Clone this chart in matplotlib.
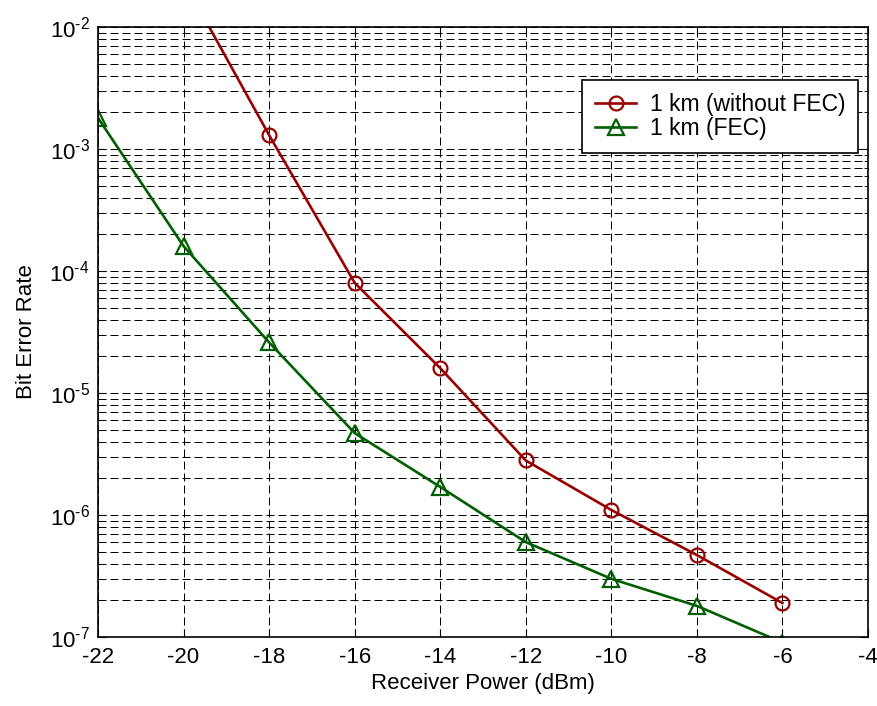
import math
import matplotlib as mpl
import matplotlib.pyplot as plt
from matplotlib.ticker import LogLocator, NullFormatter, FuncFormatter

mpl.rcParams['font.family'] = ['Liberation Sans', 'DejaVu Sans']
mpl.rcParams['mathtext.fontset'] = 'custom'
mpl.rcParams['mathtext.rm'] = 'Liberation Sans'
mpl.rcParams['axes.unicode_minus'] = False

# receiver power (dBm) and measured BER
power_nofec = [-20, -18, -16, -14, -12, -10, -8, -6]
ber_nofec = [2.4e-2, 1.3e-3, 8e-5, 1.6e-5, 2.8e-6, 1.1e-6, 4.7e-7, 1.9e-7]

power_fec = [-22, -20, -18, -16, -14, -12, -10, -8, -6]
ber_fec = [1.8e-3, 1.6e-4, 2.6e-5, 4.7e-6, 1.7e-6, 6e-7, 3e-7, 1.8e-7, 9e-8]

xticks = list(range(-22, -3, 2))


def pow_label(v, pos):
    k = int(round(math.log10(v)))
    return r'$\mathregular{10^{\text{-}%d}}$' % abs(k)


fig = plt.figure(figsize=(8.78, 7.06), dpi=100)
ax = fig.add_axes([0.1116, 0.0977, 0.877, 0.864])

ax.plot(power_nofec, ber_nofec, color='#990000', marker='o', markersize=10,
        markerfacecolor='none', markeredgewidth=1.6, linewidth=1.9,
        label='1 km (without FEC)')
ax.plot(power_fec, ber_fec, color='#005f00', marker='^', markersize=11,
        markerfacecolor='none', markeredgewidth=1.6, linewidth=1.9,
        label='1 km (FEC)')

ax.set_yscale('log')
ax.set_xlim(-22, -4)
ax.set_ylim(1e-7, 1e-2)
ax.set_xticks(xticks)
ax.set_xticklabels([str(t) for t in xticks])
ax.yaxis.set_major_locator(LogLocator(base=10, numticks=10))
ax.yaxis.set_major_formatter(FuncFormatter(pow_label))
ax.yaxis.set_minor_locator(LogLocator(base=10, subs=range(2, 10), numticks=20))
ax.yaxis.set_minor_formatter(NullFormatter())

ax.grid(True, which='major', axis='both', color='black', linestyle=(0, (8, 4)), linewidth=0.72)
ax.grid(True, which='minor', axis='y', color='black', linestyle=(0, (8, 4)), linewidth=0.72)
ax.tick_params(which='both', direction='in', top=True, right=True, labelsize=16)
ax.tick_params(which='major', length=6)
ax.tick_params(which='minor', length=3)
ax.tick_params(axis='x', pad=7)
ax.tick_params(axis='y', pad=6)
for s in ax.spines.values():
    s.set_linewidth(1.2)

ax.set_xlabel('Receiver Power (dBm)', fontsize=16, labelpad=4)
ax.set_ylabel('Bit Error Rate', fontsize=16, labelpad=9)

leg = ax.legend(loc='upper right', bbox_to_anchor=(0.993, 0.92), fontsize=16.5,
                fancybox=False, framealpha=1, edgecolor='black',
                borderpad=0.55, handlelength=1.8, handletextpad=0.6,
                labelspacing=0.05, borderaxespad=0.2)
leg.get_frame().set_linewidth(1.2)

fig.savefig('out.png', dpi=100)
